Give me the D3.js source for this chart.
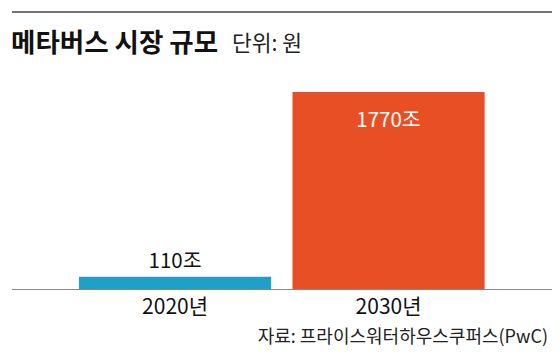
<!DOCTYPE html>
<html><head><meta charset="utf-8">
<script src="https://cdn.jsdelivr.net/npm/d3@7"></script>
<style>
html,body{margin:0;padding:0;background:#fff;}
svg{display:block;font-family:"Noto Sans CJK KR","Noto Sans",sans-serif;}
</style></head><body>
<svg id="c" width="560" height="354"></svg>
<script>
const categories = ["2020년", "2030년"];
const values = [110, 1770];
const valueLabels = ["110조", "1770조"];
const colors = ["#1ea0c8", "#e84f24"];
const title = "메타버스 시장 규모";
const unit = "단위: 원";
const source = "자료: 프라이스워터하우스쿠퍼스(PwC)";

const svg = d3.select("#c");
const x = d3.scaleBand().domain(categories).range([68.3, 495.3]).paddingInner(0.1).paddingOuter(0.05);
const y = d3.scaleLinear().domain([0, 1770]).range([289, 92]);

svg.append("line").attr("x1",12).attr("x2",552).attr("y1",12).attr("y2",12)
  .attr("stroke","#444").attr("stroke-width",1.5);

svg.append("text").attr("x",11).attr("y",52).attr("font-size",26.5).attr("font-weight",700)
  .attr("fill","#111").text(title);
svg.append("text").attr("x",232).attr("y",51).attr("font-size",21.5).attr("fill","#222").text(unit);

const data = categories.map((c,i)=>({c, v:values[i], l:valueLabels[i], col:colors[i]}));

svg.selectAll("rect.bar").data(data).join("rect").attr("class","bar")
  .attr("x",d=>x(d.c)).attr("width",x.bandwidth())
  .attr("y",d=>y(d.v)).attr("height",d=>y(0)-y(d.v)).attr("fill",d=>d.col);

svg.append("line").attr("x1",12).attr("x2",552).attr("y1",289.5).attr("y2",289.5)
  .attr("stroke","#888").attr("stroke-width",1.2);

svg.selectAll("text.vl").data(data).join("text").attr("class","vl")
  .attr("x",d=>x(d.c)+x.bandwidth()/2)
  .attr("y",(d,i)=> i===0 ? y(d.v)-9 : y(d.v)+35)
  .attr("text-anchor","middle").attr("font-size",20.5)
  .attr("fill",(d,i)=> i===0 ? "#111" : "#fff").text(d=>d.l);

const xAxis = svg.append("g").attr("transform","translate(0,289)")
  .call(d3.axisBottom(x).tickSize(0).tickPadding(8));
xAxis.select(".domain").remove();
xAxis.selectAll("text").attr("font-size",21).attr("fill","#111")
  .attr("font-family","\"Noto Sans CJK KR\",sans-serif").attr("dy","0.82em");

svg.append("text").attr("x",548).attr("y",343).attr("text-anchor","end")
  .attr("font-size",18).attr("fill","#222").text(source);
</script>
</body></html>
